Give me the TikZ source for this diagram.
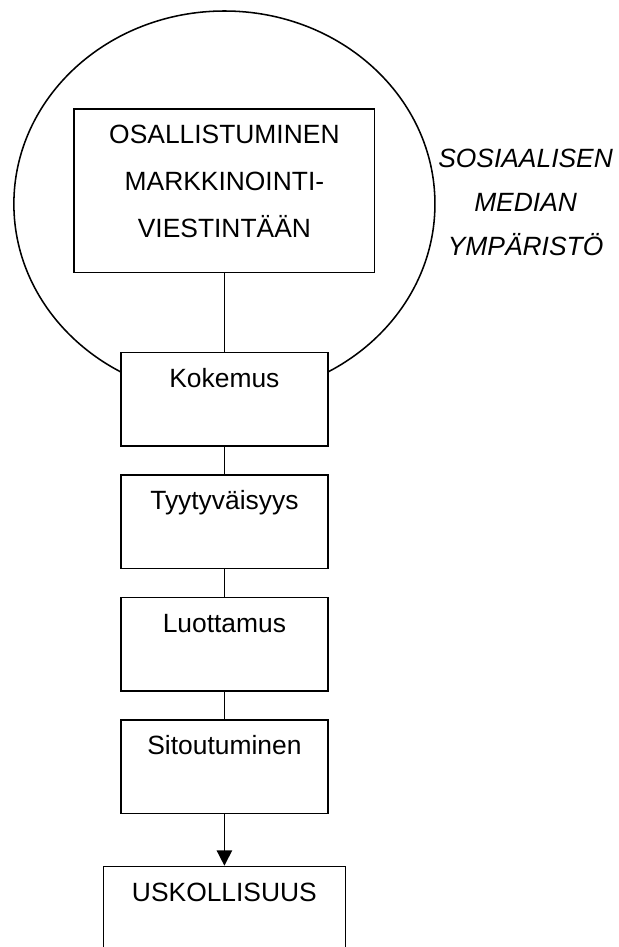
\documentclass[tikz,border=0pt]{standalone}
\usepackage{fontspec}
\setmainfont{Liberation Sans}
\usetikzlibrary{positioning, arrows.meta}
\newcommand\wa{94pt}
\newcommand\wb{136.5pt}
\newcommand\wc{110pt}
\newcommand\htx{15.8pt}

\begin{document}
\begin{tikzpicture}[line width=0.7pt, node distance=12.5pt,
    every node/.style={font=\fontsize{12pt}{21.4pt}\selectfont},
    stepbox/.style={draw, fill=white, inner sep=0pt, minimum width=\wa, text height=\htx, text depth=26.7pt}]
    \useasboundingbox (0,0) rectangle (281.35pt,-430.45pt);

    % social media environment
    \draw (102pt,-92.7pt) ellipse [x radius=95.7pt, y radius=87.7pt];

    \node (osa) [draw, fill=white, inner sep=0pt, text width=\wb, align=center, text height=15.7pt, text depth=58.8pt, anchor=north] at (102pt,-49.1pt) {OSALLISTUMINEN\\MARKKINOINTI-\\VIESTINTÄÄN};
    \node (kok) [stepbox, below=35.5pt of osa] {Kokemus};
    \node (tyy) [stepbox, below=of kok] {Tyytyväisyys};
    \node (luo) [stepbox, below=of tyy] {Luottamus};
    \node (sit) [stepbox, below=of luo] {Sitoutuminen};
    \node (usk) [stepbox, minimum width=\wc, below=23.4pt of sit] {USKOLLISUUS};

    \node (env) [align=center, font=\fontsize{12pt}{20pt}\selectfont\itshape] at (238.9pt,-91.8pt) {SOSIAALISEN\\MEDIAN\\YMPÄRISTÖ};

    \draw (osa) -- (kok);
    \draw (kok) -- (tyy);
    \draw (tyy) -- (luo);
    \draw (luo) -- (sit);
    \draw[-{Triangle[length=7pt, width=7pt]}] (sit) -- (usk);

\end{tikzpicture}
\end{document}
